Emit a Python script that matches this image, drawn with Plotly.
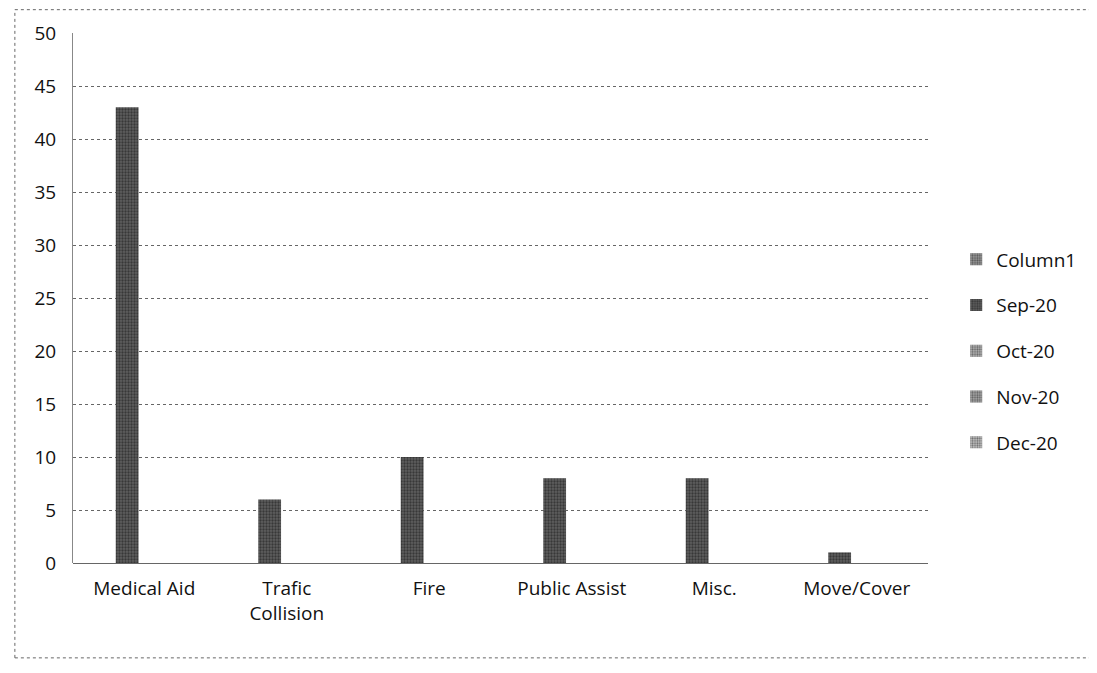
import plotly.graph_objects as go

categories = ["Medical Aid", "Trafic<br>Collision", "Fire", "Public Assist", "Misc.", "Move/Cover"]
series_names = ["Column1", "Sep-20", "Oct-20", "Nov-20", "Dec-20"]
column1 = [None, None, None, None, None, None]
sep_20 = [43, 6, 10, 8, 8, 1]
oct_20 = [None, None, None, None, None, None]
nov_20 = [None, None, None, None, None, None]
dec_20 = [None, None, None, None, None, None]
y_ticks = [0, 5, 10, 15, 20, 25, 30, 35, 40, 45, 50]

series_values = [column1, sep_20, oct_20, nov_20, dec_20]
# scanned-looking grey fills, one per series
fills = ["#9a9a9a", "#5e5e5e", "#b5b5b5", "#a8a8a8", "#c4c4c4"]

fig = go.Figure()
for name, vals, col in zip(series_names, series_values, fills):
    fig.add_trace(go.Bar(
        x=categories,
        y=vals,
        name=name,
        legendgroup=name,
        width=0.16,
        offset=-0.2,
        marker=dict(
            color=col,
            line=dict(width=0),
            pattern=dict(shape=".", fgcolor="#111111", bgcolor=col,
                         size=3, solidity=0.45),
        ),
    ))

# dotted frame around the whole chart, like the scanned original
frame = dict(type="line", xref="paper", yref="paper",
             line=dict(color="#666666", width=1, dash="dot"))
shapes = [
    dict(frame, x0=-0.068, x1=1.194, y0=1.044, y1=1.044),
    dict(frame, x0=-0.068, x1=1.194, y0=-0.179, y1=-0.179),
    dict(frame, x0=-0.068, x1=-0.068, y0=-0.179, y1=1.044),
    dict(frame, x0=1.194, x1=1.194, y0=-0.179, y1=1.044),
]

# page body adds an 8px margin, so the figure is drawn 8px smaller
fig.update_layout(
    width=1089,
    height=665,
    margin=dict(l=65, r=169, t=25, b=110, autoexpand=False),
    paper_bgcolor="white",
    plot_bgcolor="white",
    font=dict(family="Open Sans, sans-serif", size=19, color="#111111"),
    barmode="group",
    showlegend=True,
    legend=dict(
        x=1.033, y=0.40, xanchor="left", yanchor="middle",
        font=dict(size=19), tracegroupgap=18,
        bgcolor="rgba(0,0,0,0)",
    ),
    shapes=shapes,
)

fig.update_xaxes(
    showgrid=False,
    showline=False,
    ticks="",
    automargin=False,
    ticklabelstandoff=12,
    tickfont=dict(size=19),
)
fig.update_yaxes(
    range=[0, 50],
    tickvals=y_ticks,
    showgrid=True,
    gridcolor="#666666",
    griddash="dot",
    gridwidth=1,
    zeroline=True,
    zerolinecolor="#666666",
    zerolinewidth=1,
    showline=True,
    linecolor="#888888",
    linewidth=1,
    ticks="",
    automargin=False,
    ticklabelstandoff=12,
    tickfont=dict(size=19),
)

fig.write_html("out.html")
